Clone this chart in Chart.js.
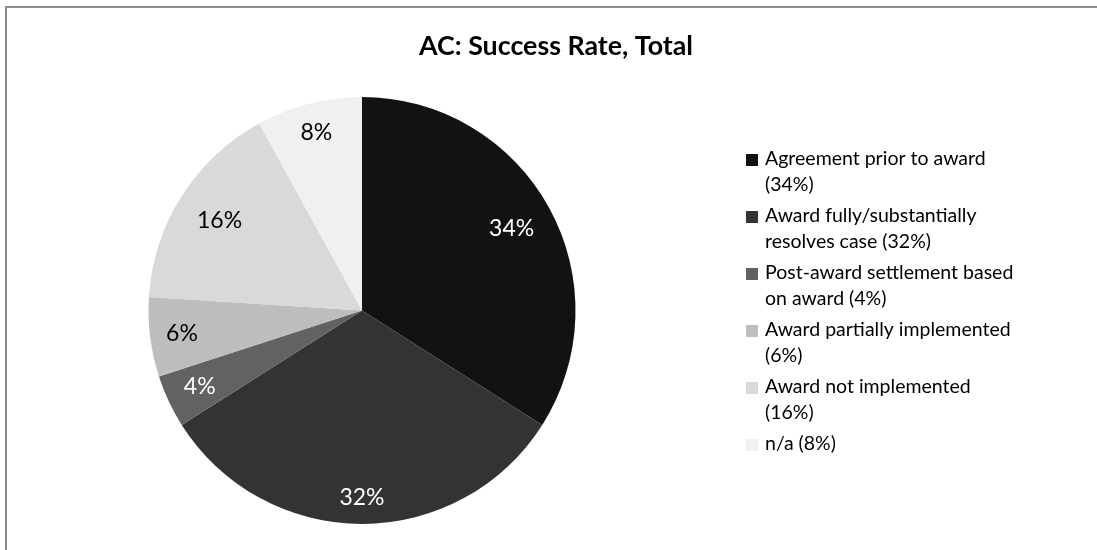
<!DOCTYPE html>
<html>
<head>
<meta charset="utf-8">
<script src="https://cdn.jsdelivr.net/npm/chart.js@4.4.1/dist/chart.umd.min.js"></script>
<style>
  html, body { margin: 0; padding: 0; background: #fff; }
  canvas { display: block; }
</style>
</head>
<body>
<canvas id="chart" width="1097" height="550"></canvas>
<script>
// 데이터
const categories = [
  "Agreement prior to award",
  "Award fully/substantially resolves case",
  "Post-award settlement based on award",
  "Award partially implemented",
  "Award not implemented",
  "n/a",
];
const shares = [34, 32, 4, 6, 16, 8];
const sliceLabels = ["34%", "32%", "4%", "6%", "16%", "8%"];
const legendLines = [
  ["Agreement prior to award", "(34%)"],
  ["Award fully/substantially", "resolves case (32%)"],
  ["Post-award settlement based", "on award (4%)"],
  ["Award partially implemented", "(6%)"],
  ["Award not implemented", "(16%)"],
  ["n/a (8%)"],
];
const titleText = "AC: Success Rate, Total";

// 스타일
const sliceColors = ["#121212", "#333333", "#626262", "#bdbdbd", "#d9d9d9", "#f0f0f0"];
const labelColors = ["#ffffff", "#ffffff", "#ffffff", "#000000", "#000000", "#000000"];
const labelRadius = [0.8, 0.876, 0.84, 0.85, 0.79, 0.86];
const FONT = "Lato, 'Open Sans', sans-serif";

const decor = {
  id: "decor",
  beforeDraw(chart) {
    const ctx = chart.ctx;
    ctx.save();
    ctx.fillStyle = "#fff";
    ctx.fillRect(0, 0, chart.width, chart.height);
    ctx.strokeStyle = "#8c8c8c";
    ctx.lineWidth = 2;
    ctx.beginPath();
    ctx.moveTo(6, chart.height);
    ctx.lineTo(6, 7);
    ctx.lineTo(chart.width, 7);
    ctx.stroke();
    ctx.restore();
  },
  afterDatasetsDraw(chart) {
    const ctx = chart.ctx;
    ctx.save();
    // 조각 라벨
    ctx.font = "23px " + FONT;
    ctx.textAlign = "center";
    ctx.textBaseline = "middle";
    chart.getDatasetMeta(0).data.forEach((arc, i) => {
      const p = arc.getProps(["x", "y", "startAngle", "endAngle", "outerRadius"], true);
      const mid = (p.startAngle + p.endAngle) / 2;
      const r = p.outerRadius * labelRadius[i];
      ctx.fillStyle = labelColors[i];
      ctx.fillText(sliceLabels[i], p.x + Math.cos(mid) * r, p.y + Math.sin(mid) * r);
    });

    // 제목
    ctx.fillStyle = "#000";
    ctx.font = "bold 26.8px " + FONT;
    ctx.fillText(titleText, 556, 46);

    // 범례
    ctx.font = "19.5px " + FONT;
    ctx.textAlign = "left";
    let y = 159;
    legendLines.forEach((lines, i) => {
      ctx.fillStyle = sliceColors[i];
      ctx.fillRect(746, y - 5, 12, 12);
      ctx.fillStyle = "#000";
      lines.forEach((t, k) => {
        ctx.fillText(t, 765, y + k * 26);
      });
      y += lines.length * 26 + 5;
    });
    ctx.restore();
  },
};

new Chart(document.getElementById("chart").getContext("2d"), {
  type: "pie",
  data: {
    labels: categories,
    datasets: [
      {
        data: shares,
        backgroundColor: sliceColors,
        borderWidth: 0,
      },
    ],
  },
  options: {
    responsive: false,
    animation: false,
    layout: { padding: { left: 148, right: 521, top: 97, bottom: 26 } },
    plugins: {
      legend: { display: false },
      title: { display: false },
      tooltip: { enabled: false },
    },
  },
  plugins: [decor],
});
</script>
</body>
</html>
